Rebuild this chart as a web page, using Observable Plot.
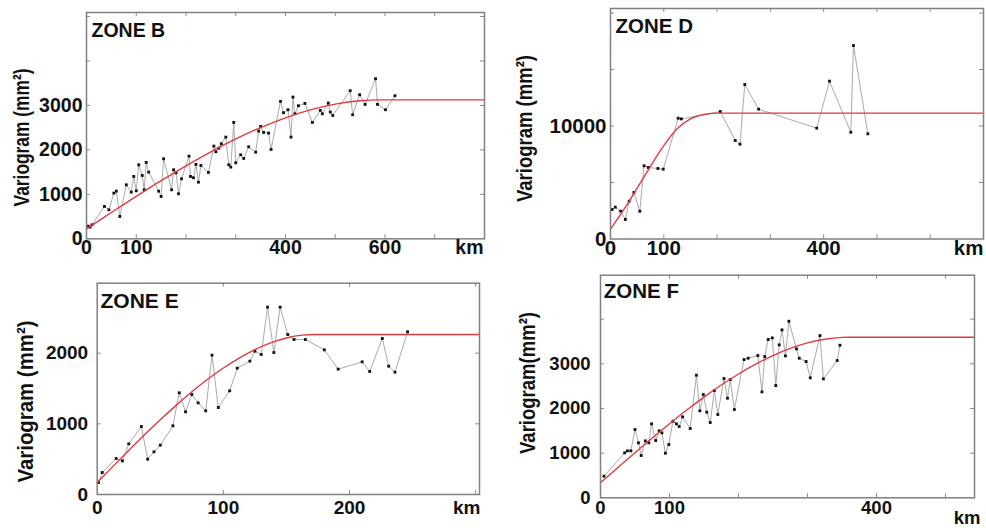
<!DOCTYPE html>
<html><head><meta charset="utf-8">
<script src="https://cdn.jsdelivr.net/npm/d3@7"></script>
<script src="https://cdn.jsdelivr.net/npm/@observablehq/plot@0.6"></script>
<style>
html,body{margin:0;padding:0;background:#fff;}
#wrap{position:relative;width:986px;height:528px;overflow:hidden;background:#fff;}
#wrap > div{position:absolute;}
</style></head><body><div id="wrap"></div>
<script>
// ---------- ZONE B ----------
const bDist = [3,7,11,36,45,55,60,67,80,90,95,100,105,112,116,120,125,145,150,155,171,175,180,185,191,206,209,215,220,225,230,245,256,260,266,271,280,286,290,296,300,310,316,326,340,346,350,356,366,371,390,396,405,411,415,419,426,439,454,470,474,486,490,495,530,535,549,560,581,585,601,620];
const bGamma = [285,263,315,728,653,1028,1073,503,1215,1050,1403,1080,1665,1425,1103,1718,1500,1073,953,1800,1103,1553,1485,1013,1350,1860,1403,1373,1673,1275,1650,1493,2085,1958,2040,2138,2288,1665,1613,2618,1710,1890,1808,2070,1950,2423,2528,2393,2378,2010,3090,2836,2903,2288,3188,2813,2993,3045,2618,2888,2813,3053,2851,2776,3331,2791,3241,3023,3601,3023,2903,3218];
const bModelDist = [0,25,50,75,100,150,200,250,300,350,400,450,500,550,590,800];
const bModelGamma = [225,409,593,775,955,1307,1643,1958,2246,2503,2722,2899,3029,3105,3125,3125];
const bXTicks = [0,100,400,600];
const bYTicks = [0,1000,2000,3000];

// ---------- ZONE D ----------
const dDist = [3,9,19,28,35,44,55,63,71,89,99,127,133,206,234,243,252,278,387,411,451,456,483];
const dGamma = [2610,2820,2460,1730,3350,4120,2460,6480,6330,6240,6180,10690,10630,11280,8720,8390,13670,11490,9810,13970,9450,17120,9310];
const dModelDist = [0,35,62.5,100,125,150,175,205,700];
const dModelGamma = [870,3320,5470,8270,9750,10630,11020,11140,11140];
const dXTicks = [0,100,400];
const dYTicks = [0,10000];

// ---------- ZONE E ----------
const eDist = [1,4,15,20,25,35,40,45,50,60,65,70,75,80,86,91,96,105,111,121,125,130,135,140,145,151,156,165,180,191,210,216,226,231,236,246];
const eGamma = [170,311,509,476,717,962,500,604,698,972,1439,1170,1415,1297,1184,1972,1231,1467,1788,1887,2028,1981,2651,2009,2651,2264,2193,2193,2047,1774,1877,1741,2208,1816,1731,2302];
const eModelDist = [0,12.5,25,37.5,50,62.5,75,87.5,100,112.5,125,137.5,150,162.5,172,303];
const eModelGamma = [170,398,623,844,1057,1261,1453,1630,1790,1931,2051,2146,2215,2255,2264,2264];
const eXTicks = [0,100,200];
const eYTicks = [0,1000,2000];

// ---------- ZONE F ----------
const fDist = [5,35,39,44,50,55,59,65,70,74,80,85,89,94,99,105,110,114,119,130,139,144,149,154,159,165,170,179,184,188,194,208,214,228,234,238,243,249,254,259,263,268,273,284,288,298,304,318,323,343,347];
const fGamma = [484,1007,1051,1051,1529,1231,947,1275,1231,1656,1283,1499,1454,999,1193,1716,1656,1596,1813,1551,2745,1947,2313,1917,1686,2402,1865,2671,2230,2648,1977,3096,3126,3186,2372,3163,3544,3581,2514,3424,3760,3178,3954,3335,3126,3051,2686,3633,2663,3074,3417];
const fModelDist = [0,25,50,75,100,125,150,175,200,225,250,275,300,325,350,360,542];
const fModelGamma = [336,675,1011,1340,1659,1966,2256,2526,2773,2994,3186,3345,3468,3551,3592,3596,3596];
const fXTicks = [0,100,400];
const fYTicks = [0,1000,2000,3000];

const zoneNames = ["ZONE B","ZONE D","ZONE E","ZONE F"];
const yLabels = ["Variogram (mm²)","Variogram (mm²)","Variogram (mm²)","Variogram(mm²)"];
const unitLabel = ["km"];

const panels = [
  {left:0, top:0, ml:86, mr:9, mt:12, mb:25.67, xDomain:[0,800], yDomain:[0,5090],
   dist:bDist, gamma:bGamma, mDist:bModelDist, mGamma:bModelGamma, xTicks:bXTicks, yTicks:bYTicks,
   xMinor:[100,200,300,400,500,600,700], yMinor:[1000,2000,3000,4000,5000],
   fs:19.5, xPad:1, yPad:4, zone:zoneNames[0], zfs:19.5, zdx:5, zdy:10.7, kdx:-1, kdy:1.3,
   ylab:yLabels[0], ydx:-65, ydy:11.8, ylen:138},
  {left:493, top:0, ml:117, mr:3, mt:8, mb:25.5, xDomain:[0,700], yDomain:[0,20400],
   dist:dDist, gamma:dGamma, mDist:dModelDist, mGamma:dModelGamma, xTicks:dXTicks, yTicks:dYTicks,
   xMinor:[100,200,300,400,500,600], yMinor:[5000,10000,15000,20000],
   fs:20.5, xPad:1, yPad:4, zone:zoneNames[1], zfs:20.5, zdx:5, zdy:10.3, kdx:0, kdy:1,
   ylab:yLabels[1], ydx:-86, ydy:4.75, ylen:147},
  {left:0, top:264, ml:96.7, mr:14, mt:18.7, mb:34, xDomain:[0,303], yDomain:[0,2990],
   dist:eDist, gamma:eGamma, mDist:eModelDist, mGamma:eModelGamma, xTicks:eXTicks, yTicks:eYTicks,
   xMinor:[100,200,300], yMinor:[1000,2000],
   fs:19, xPad:6, yPad:9, zone:zoneNames[2], zfs:21, zdx:3.3, zdy:10, kdx:1, kdy:6,
   ylab:yLabels[2], ydx:-71.7, ydy:12.65, ylen:162},
  {left:493, top:264, ml:107, mr:12, mt:10.7, mb:30.7, xDomain:[0,542], yDomain:[0,4985],
   dist:fDist, gamma:fGamma, mDist:fModelDist, mGamma:fModelGamma, xTicks:fXTicks, yTicks:fYTicks,
   xMinor:[100,200,300,400,500], yMinor:[1000,2000,3000,4000],
   fs:18.5, xPad:3, yPad:10, zone:zoneNames[3], zfs:20.5, zdx:3.3, zdy:8.6, kdx:6, kdy:13.4,
   ylab:yLabels[3], ydx:-72.5, ydy:-3.5, ylen:142}
];

const W = 493, H = 264;
const font = "'Liberation Sans', Arial, Helvetica, sans-serif";
const wrap = document.getElementById("wrap");

for (const p of panels) {
  const innerH = H - p.mt - p.mb;
  const innerW = W - p.ml - p.mr;
  const pts = p.dist.map((d, i) => ({x: d, y: p.gamma[i]}));
  const model = p.mDist.map((d, i) => ({x: d, y: p.mGamma[i]}));
  const chart = Plot.plot({
    width: W, height: H,
    marginLeft: p.ml, marginRight: p.mr, marginTop: p.mt, marginBottom: p.mb,
    x: {domain: p.xDomain},
    y: {domain: p.yDomain},
    style: {fontFamily: font, background: "transparent", color: "#111", overflow: "visible"},
    marks: [
      Plot.tickX(p.xMinor, {x: d => d, insetTop: innerH - 4, stroke: "#8a8a8a", strokeWidth: 1}),
      Plot.tickX(p.xMinor, {x: d => d, insetBottom: innerH - 4, stroke: "#8a8a8a", strokeWidth: 1}),
      Plot.tickY(p.yMinor, {y: d => d, insetRight: innerW - 4, stroke: "#8a8a8a", strokeWidth: 1}),
      Plot.tickY(p.yMinor, {y: d => d, insetLeft: innerW - 4, stroke: "#8a8a8a", strokeWidth: 1}),
      Plot.line(pts, {x: "x", y: "y", stroke: "#a0a0a0", strokeWidth: 0.9}),
      Plot.dot(pts, {x: "x", y: "y", r: 1.6, symbol: "square", fill: "#111", stroke: "none"}),
      Plot.line(model, {x: "x", y: "y", stroke: "#e23a3f", strokeWidth: 1.4, curve: "monotone-x"}),
      Plot.frame({stroke: "#808080", strokeWidth: 1.5}),
      Plot.axisX({ticks: p.xTicks, tickSize: 0, tickPadding: p.xPad, tickFormat: d => String(d),
                  fontSize: p.fs, fontWeight: "bold", label: null}),
      Plot.axisY({ticks: p.yTicks, tickSize: 0, tickPadding: p.yPad, tickFormat: d => String(d),
                  fontSize: p.fs, fontWeight: "bold", label: null}),
      Plot.text([p.zone], {frameAnchor: "top-left", text: d => d, dx: p.zdx, dy: p.zdy,
                  textAnchor: "start", lineAnchor: "top", fontSize: p.zfs, fontWeight: "bold", fill: "#111"}),
      Plot.text(unitLabel, {frameAnchor: "bottom-right", text: d => d, dx: p.kdx, dy: p.kdy,
                  textAnchor: "end", lineAnchor: "top", fontSize: p.fs, fontWeight: "bold", fill: "#111"}),
      Plot.text([p.ylab], {frameAnchor: "left", text: d => d, rotate: -90, dx: p.ydx, dy: p.ydy,
                  textAnchor: "middle", lineAnchor: "middle", fontSize: 22, fontWeight: "bold", fill: "#111"})
    ]
  });
  chart.querySelectorAll("text").forEach(t => {
    if (t.textContent === p.ylab) {
      t.setAttribute("textLength", p.ylen);
      t.setAttribute("lengthAdjust", "spacingAndGlyphs");
    }
  });
  const div = document.createElement("div");
  div.style.left = p.left + "px";
  div.style.top = p.top + "px";
  div.appendChild(chart);
  wrap.appendChild(div);
}
</script>
</body></html>
